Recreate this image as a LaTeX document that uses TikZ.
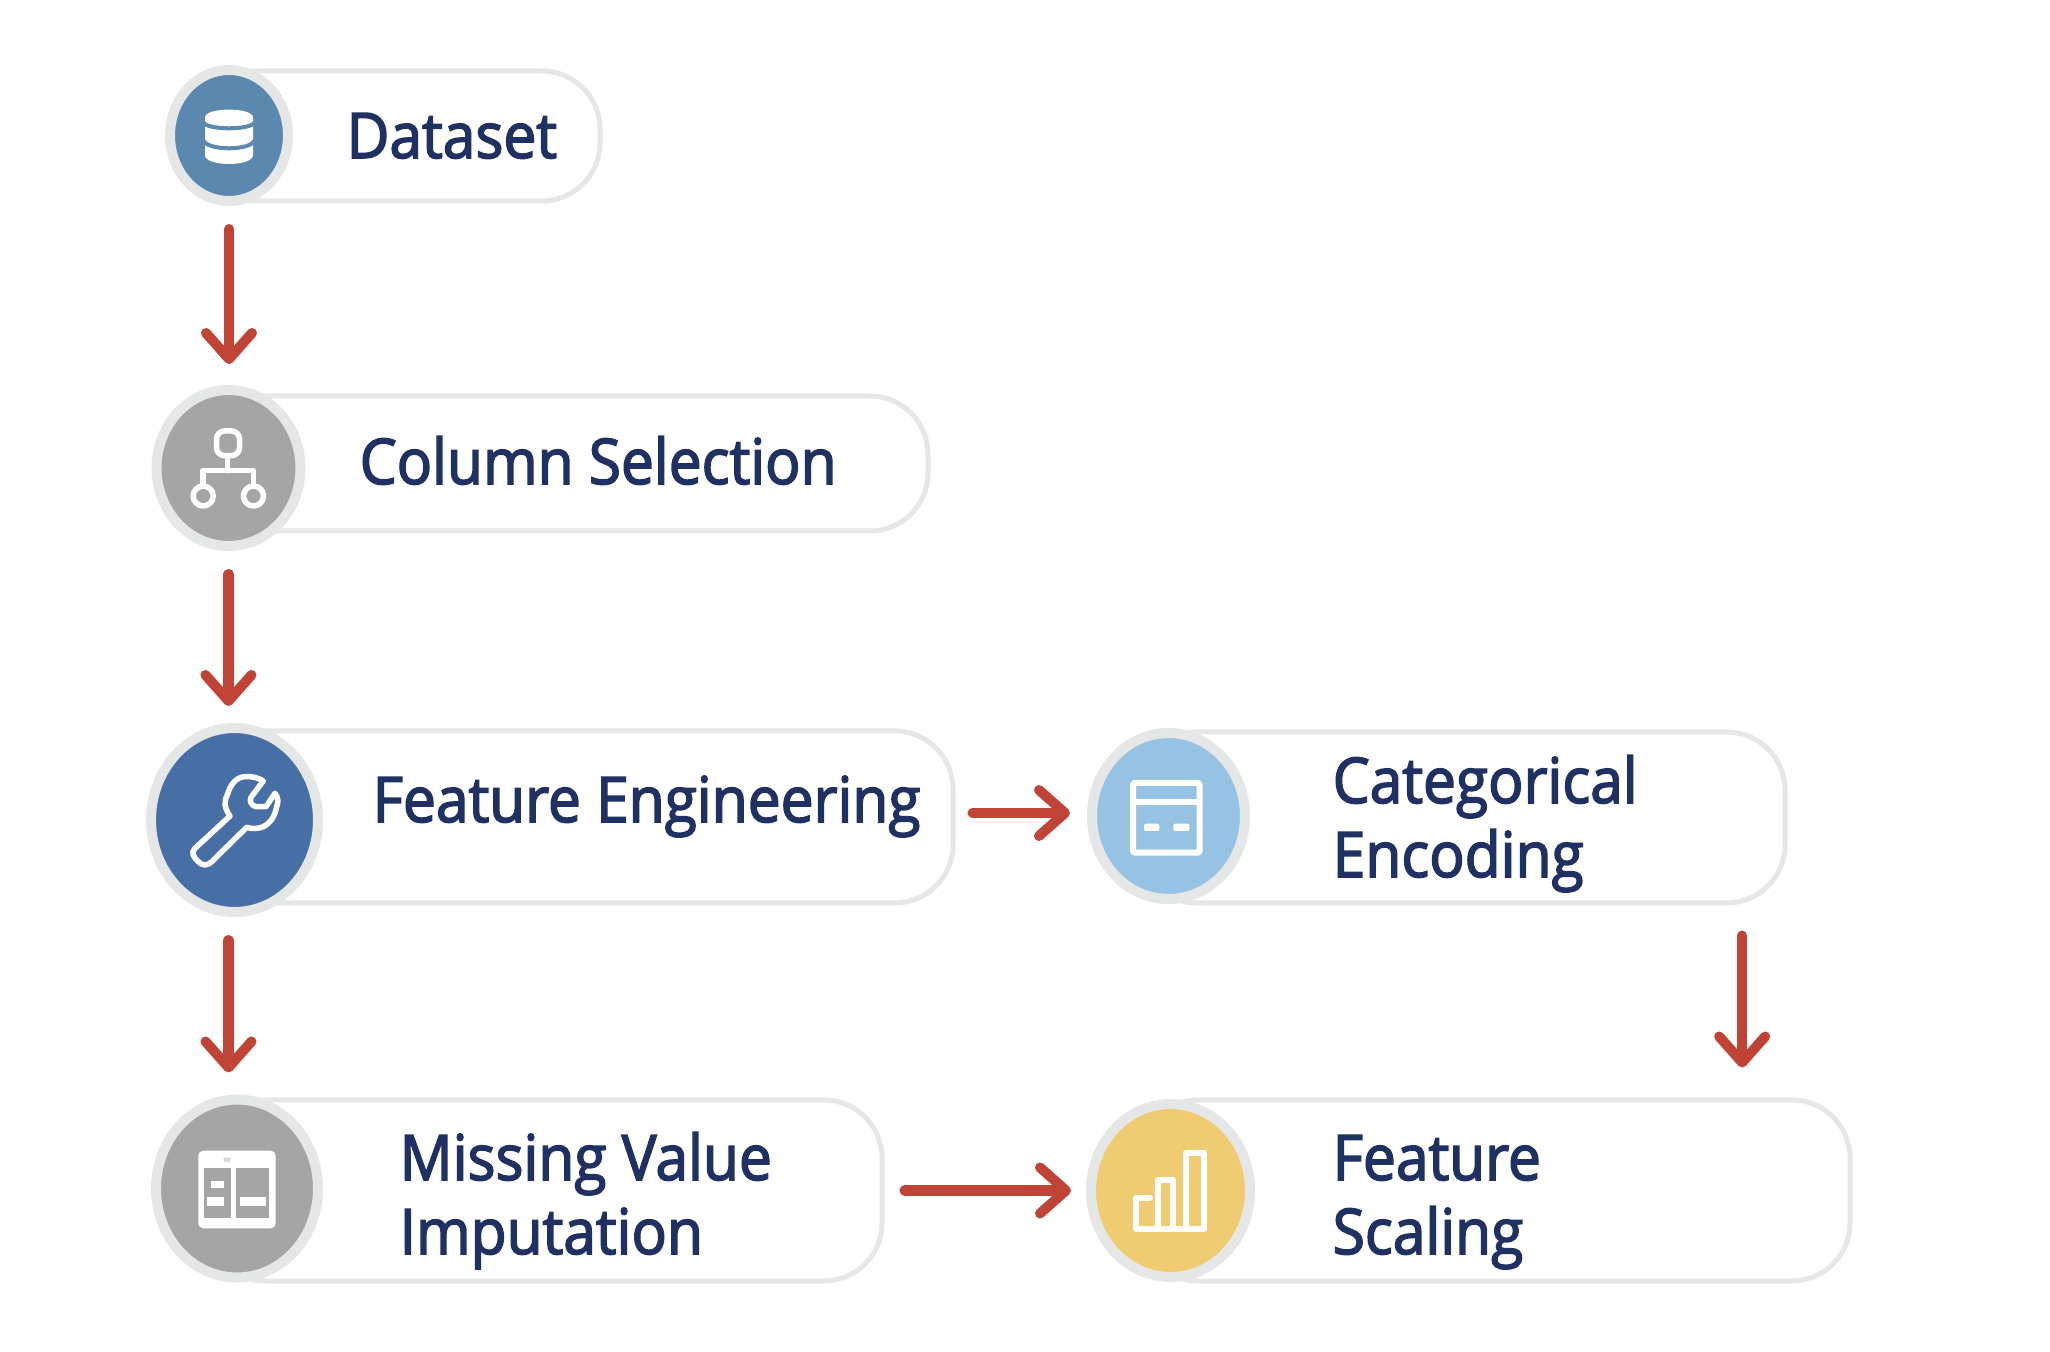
\documentclass[tikz,border=0pt]{standalone}
\usepackage{fontspec}
\usepackage{xcolor}
\usetikzlibrary{arrows.meta,shapes.geometric}
\newfontfamily\labelfont[FakeBold=2.5,FakeStretch=.932]{Open Sans}
\definecolor{ringgray}{HTML}{E5E6E6}
\definecolor{inknavy}{HTML}{1F3163}
\definecolor{flowred}{HTML}{BF4436}
\definecolor{dsblue}{HTML}{5B88AE}
\definecolor{midgray}{HTML}{A5A5A5}
\definecolor{febblue}{HTML}{466FA6}
\definecolor{skyblue}{HTML}{96C3E4}
\definecolor{softgold}{HTML}{EFCC72}
\tikzset{
  pill/.style={draw=ringgray, fill=white, line width=.05cm, rounded corners=.58cm, inner sep=0},
  disc/.style={ellipse, draw=ringgray, line width=.1cm, inner sep=0},
  steplabel/.style={text=inknavy, inner sep=0, align=left, anchor=base west,
    font=\labelfont\fontsize{17.9}{21.05}\selectfont},
  flow/.style={draw=flowred, line width=.1cm, line cap=round,
    -{Straight Barb[length=.26cm,width=.46cm,round]}},
  gaps/.style 2 args={shorten <=#1*.01cm, shorten >=#2*.01cm},
  glyph/.style={draw=white, line width=.055cm, line join=round, line cap=round}
}
\begin{document}
\begin{tikzpicture}[x=.01cm,y=-.01cm]
  \useasboundingbox (0,0) rectangle (2050,1352);
  \foreach \id/\cx/\cy/\rx/\ry/\yt/\yb/\xr/\col/\xl/\yl/\txt in {
    ds/229/135.5/54/60.5/71/201/600/dsblue/346/158/Dataset,
    cs/228.5/468/67/73/396/531/928/midgray/359/484/Column Selection,
    fe/234.5/820/78.5/87/731/903/953/febblue/372/822/Feature Engineering,
    mv/237/1188.5/76/84/1100/1281/882/midgray/399/1254/Missing Value\\Imputation,
    ce/1168.5/816/71.5/78/732/903/1785/skyblue/1332/877/Categorical\\Encoding,
    fs/1170.5/1190.5/74.5/81.5/1100/1281/1850/softgold/1332/1254/Feature\\Scaling}{
    \pgfmathsetmacro{\pw}{(\xr-\cx+30)*.01}
    \pgfmathsetmacro{\ph}{(\yb-\yt)*.01}
    \pgfmathsetmacro{\dw}{2*(\rx+5)*.01}
    \pgfmathsetmacro{\dh}{2*(\ry+5)*.01}
    \node[pill, minimum width=\pw cm, minimum height=\ph cm] (\id) at ({(\cx-30+\xr)/2},{(\yt+\yb)/2}) {};
    \node[steplabel] (\id text) at (\xl,\yl) {\txt};
    \node[disc, fill=\col, minimum width=\dw cm, minimum height=\dh cm] (\id icon) at (\cx,\cy) {};
  }

  \draw[flow, gaps={23}{21}] (dsicon.south) -- (dsicon.south |- csicon.north);
  \draw[flow, gaps={23}{17}] (csicon.south) -- (csicon.south |- feicon.north);
  \draw[flow, gaps={23}{22}] (csicon.south |- feicon.south) -- (csicon.south |- mvicon.north);
  \draw[flow, gaps={17}{17}] ([yshift=.04cm]fe.east) -- ([yshift=.04cm]fe.east -| ceicon.west);
  \draw[flow, gaps={20}{15}] (mv.east) -- (mv.east -| fsicon.west);
  \draw[flow, gaps={30}{30}] ([xshift=2.8025cm]ce.south) -- ([xshift=2.8025cm]ce.south |- fs.north);

  \begin{scope}[shift={(dsicon.center)}]
    \fill[white] (-24,-18) .. controls (-24,-28.5) and (24,-28.5) .. (24,-18) -- (24,19.5)
      .. controls (24,31.5) and (-24,31.5) .. (-24,19.5) -- cycle;
    \draw[dsblue, line width=.04cm] (-26,-13.8) .. controls (-24,-5) and (24,-5) .. (26,-13.8);
    \draw[dsblue, line width=.04cm] (-26,3.8) .. controls (-24,15.8) and (24,15.8) .. (26,3.8);
  \end{scope}

  \begin{scope}[shift={(csicon.center)}]
    \draw[glyph, rounded corners=.08cm] (-12,-37) rectangle (11,-12.4);
    \draw[glyph] (-1,-12.4) -- (-1,2.7);
    \draw[glyph] (-25.3,18) -- (-25.3,2.7) -- (25,2.7) -- (25,18);
    \draw[glyph] (-25.3,28) circle (10);
    \draw[glyph] (25,28) circle (10);
  \end{scope}

  \begin{scope}[shift={(feicon.center)}]
    \draw[glyph] (-39.5,28.3) -- (-4.5,-4) .. controls (-10,-12) and (-11,-18) .. (-7.2,-25)
      .. controls (-4,-36) and (2,-43) .. (10.5,-43.3) .. controls (18,-44) and (24,-42) .. (28.8,-39)
      -- (16.5,-22.7) .. controls (14.5,-18.5) and (17,-14.5) .. (21.5,-13.3) -- (31.5,-13.3)
      -- (40.5,-26.7) .. controls (44,-22) and (44,-18) .. (42.2,-13.3)
      .. controls (40,-3) and (36,3) .. (28.8,6.7) .. controls (23,9) and (17,9) .. (12.2,7.3)
      -- (-22.8,41.7) .. controls (-27,46) and (-32,46) .. (-36.2,41.7)
      .. controls (-41,37) and (-44,33) .. (-39.5,28.3) -- cycle;
  \end{scope}

  \begin{scope}[shift={(mvicon.center)}]
    \fill[white, rounded corners=.05cm] (-38.7,-37.8) rectangle (38.7,39.8);
    \fill[midgray] (-33,-20.2) rectangle (-6.3,29.8);
    \fill[midgray] (-1,-20.2) rectangle (32.3,29.8);
    \fill[white] (-26,-7.5) rectangle (-12.7,-.2);
    \fill[white] (-29.7,8.2) rectangle (-12.7,17.2);
    \fill[white] (3,8.2) rectangle (28.7,17.2);
    \fill[black!15, rounded corners=.02cm] (-13.7,-31) rectangle (-6.3,-26.5);
  \end{scope}

  \begin{scope}[shift={(ceicon.center)}]
    \draw[glyph, line width=.06cm, rounded corners=.02cm] (-35.5,-33) rectangle (31.2,36.7);
    \draw[glyph, line width=.06cm] (-35.5,-13.7) -- (31.2,-13.7);
    \fill[white, rounded corners=.02cm] (-24.5,7.7) rectangle (-9.2,15);
    \fill[white, rounded corners=.02cm] (4.8,7.7) rectangle (20.8,15);
  \end{scope}

  \begin{scope}[shift={(fsicon.center)}]
    \draw[glyph, line width=.06cm] (-20.5,7.5) -- (-34.2,7.5) -- (-34.2,38.2) -- (33.2,38.2)
      -- (33.2,-37.5) -- (15.2,-37.5) -- (15.2,38.2);
    \draw[glyph, line width=.06cm] (-12.5,38.2) -- (-12.5,-10.8) -- (2.5,-10.8) -- (2.5,38.2);
  \end{scope}
\end{tikzpicture}
\end{document}
